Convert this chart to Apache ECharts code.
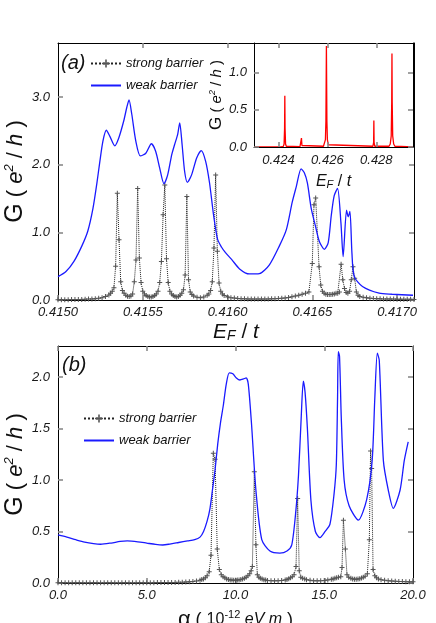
<!DOCTYPE html>
<html><head><meta charset="utf-8">
<script src="https://cdn.jsdelivr.net/npm/echarts@6/dist/echarts.min.js"></script>
<style>html,body{margin:0;padding:0;background:#fff}#c{width:436px;height:623px}</style>
</head><body><div id="c"></div>
<script>
// ---------- data: panel (a) ----------
const aXTicks = [0.4150, 0.4155, 0.4160, 0.4165, 0.4170];
const aYTicks = [0.0, 1.0, 2.0, 3.0];
const aStrong = [[0.41500,0.004],[0.41502,0.004],[0.41504,0.005],[0.41506,0.005],[0.41508,0.006],[0.41510,0.007],[0.41512,0.008],[0.41514,0.009],[0.41516,0.011],[0.41518,0.013],[0.41520,0.016],[0.41522,0.020],[0.41524,0.026],[0.41526,0.035],[0.41528,0.05],[0.41530,0.075],[0.41531,0.10],[0.41532,0.13],[0.41533,0.18],[0.41534,0.50],[0.41535,1.58],[0.41536,0.89],[0.41537,0.27],[0.41538,0.14],[0.41539,0.10],[0.41540,0.07],[0.41541,0.055],[0.41542,0.05],[0.41543,0.06],[0.41544,0.09],[0.41545,0.27],[0.41546,0.59],[0.41547,1.65],[0.41548,0.62],[0.41549,0.26],[0.41550,0.13],[0.41551,0.09],[0.41552,0.065],[0.41553,0.05],[0.41554,0.045],[0.41555,0.045],[0.41556,0.05],[0.41557,0.065],[0.41558,0.09],[0.41559,0.13],[0.41560,0.26],[0.41561,0.57],[0.41562,1.26],[0.41563,1.70],[0.41564,0.61],[0.41565,0.26],[0.41566,0.13],[0.41567,0.09],[0.41568,0.065],[0.41569,0.05],[0.41570,0.045],[0.41571,0.05],[0.41572,0.07],[0.41573,0.10],[0.41574,0.15],[0.41575,0.37],[0.41576,1.53],[0.41577,0.30],[0.41578,0.12],[0.41579,0.08],[0.41580,0.06],[0.41582,0.04],[0.41584,0.035],[0.41586,0.045],[0.41588,0.07],[0.41589,0.09],[0.41590,0.14],[0.41591,0.27],[0.41592,0.77],[0.41593,1.85],[0.41594,0.72],[0.41595,0.25],[0.41596,0.13],[0.41597,0.09],[0.41598,0.065],[0.41600,0.045],[0.41602,0.035],[0.41604,0.028],[0.41606,0.023],[0.41608,0.019],[0.41610,0.017],[0.41612,0.015],[0.41614,0.014],[0.41616,0.013],[0.41618,0.013],[0.41620,0.013],[0.41622,0.014],[0.41624,0.015],[0.41626,0.017],[0.41628,0.019],[0.41630,0.022],[0.41632,0.026],[0.41634,0.031],[0.41636,0.038],[0.41638,0.047],[0.41640,0.058],[0.41642,0.07],[0.41644,0.085],[0.41646,0.10],[0.41648,0.12],[0.41650,0.54],[0.41651,1.41],[0.41652,1.51],[0.41654,0.49],[0.41655,0.22],[0.41656,0.13],[0.41657,0.10],[0.41658,0.085],[0.41659,0.08],[0.41660,0.08],[0.41661,0.08],[0.41662,0.085],[0.41663,0.09],[0.41664,0.10],[0.41665,0.10],[0.41666,0.12],[0.41667,0.53],[0.41668,0.30],[0.41669,0.17],[0.41670,0.11],[0.41671,0.10],[0.41672,0.13],[0.41673,0.30],[0.41674,0.49],[0.41675,0.32],[0.41676,0.12],[0.41677,0.07],[0.41678,0.05],[0.41680,0.04],[0.41682,0.032],[0.41684,0.027],[0.41686,0.023],[0.41688,0.02],[0.41690,0.018],[0.41692,0.016],[0.41694,0.015],[0.41696,0.014],[0.41698,0.013],[0.41700,0.012],[0.41702,0.011],[0.41704,0.011],[0.41706,0.010],[0.41708,0.010],[0.41710,0.009]];
const aWeak = [[0.415000,0.345],[0.415047,0.42],[0.415094,0.57],[0.415141,0.80],[0.415176,1.02],[0.415206,1.35],[0.415229,1.72],[0.415247,2.05],[0.415265,2.35],[0.415285,2.51],[0.415306,2.42],[0.415335,2.28],[0.415359,2.40],[0.415388,2.65],[0.415406,2.85],[0.415419,2.96],[0.415435,2.75],[0.415459,2.35],[0.415486,2.13],[0.415518,2.17],[0.415551,2.31],[0.415576,2.20],[0.415600,1.95],[0.415625,1.72],[0.415647,1.85],[0.415671,2.15],[0.415688,2.30],[0.415706,2.45],[0.415718,2.62],[0.415732,2.30],[0.415747,1.90],[0.415763,1.74],[0.415788,1.85],[0.415818,2.10],[0.415845,2.21],[0.415871,2.05],[0.415894,1.73],[0.415918,1.25],[0.415941,0.90],[0.415965,0.78],[0.415988,0.70],[0.416024,0.60],[0.416071,0.46],[0.416129,0.385],[0.416188,0.39],[0.416247,0.52],[0.416306,0.80],[0.416347,1.04],[0.416382,1.45],[0.416406,1.68],[0.416434,1.94],[0.416453,1.88],[0.416471,1.73],[0.416494,1.35],[0.416518,1.10],[0.416541,0.87],[0.416571,0.75],[0.416594,0.85],[0.416612,1.25],[0.416629,1.54],[0.416649,1.65],[0.416669,1.14],[0.416682,0.64],[0.416702,1.33],[0.416712,1.23],[0.416722,1.31],[0.416734,0.69],[0.416747,0.35],[0.416796,0.20],[0.416894,0.10],[0.416971,0.085],[0.417094,0.07]];
// inset of panel (a)
const insetXTicks = [0.424, 0.426, 0.428];
const insetYTicks = [0.0, 0.5, 1.0];
const insetG = [[0.4230,0.0],[0.42410,0.002],[0.42420,0.01],[0.42423,0.04],[0.42425,0.25],[0.42426,0.69],[0.42427,0.25],[0.42429,0.04],[0.42432,0.01],[0.42488,0.005],[0.42492,0.02],[0.42494,0.12],[0.42496,0.02],[0.42500,0.005],[0.42584,0.01],[0.42588,0.03],[0.42592,0.10],[0.42594,0.35],[0.42596,1.36],[0.42598,0.35],[0.42600,0.10],[0.42604,0.03],[0.42608,0.01],[0.42786,0.01],[0.42789,0.06],[0.42790,0.355],[0.42791,0.06],[0.42794,0.01],[0.42852,0.01],[0.42857,0.04],[0.42861,0.15],[0.42863,0.6],[0.42864,1.26],[0.42865,0.6],[0.42867,0.15],[0.42871,0.04],[0.42876,0.01],[0.4295,0.002]];
// ---------- data: panel (b) ----------
const bXTicks = [0.0, 5.0, 10.0, 15.0, 20.0];
const bYTicks = [0.0, 0.5, 1.0, 1.5, 2.0];
const bStrong = [[0,0.002],[0.2,0.002],[0.4,0.002],[0.6,0.002],[0.8,0.002],[1.0,0.002],[1.2,0.002],[1.4,0.002],[1.6,0.002],[1.8,0.002],[2.0,0.002],[2.2,0.002],[2.4,0.002],[2.6,0.002],[2.8,0.002],[3.0,0.002],[3.2,0.002],[3.4,0.002],[3.6,0.002],[3.8,0.002],[4.0,0.002],[4.2,0.003],[4.4,0.003],[4.6,0.003],[4.8,0.003],[5.0,0.003],[5.2,0.003],[5.4,0.003],[5.6,0.004],[5.8,0.004],[6.0,0.004],[6.2,0.005],[6.4,0.005],[6.6,0.006],[6.8,0.007],[7.0,0.008],[7.2,0.009],[7.4,0.011],[7.6,0.014],[7.8,0.019],[8.0,0.027],[8.1,0.033],[8.2,0.04],[8.3,0.05],[8.4,0.07],[8.52,0.11],[8.62,0.27],[8.75,1.26],[8.85,1.20],[8.97,0.33],[9.09,0.13],[9.2,0.08],[9.3,0.06],[9.4,0.05],[9.5,0.04],[9.6,0.035],[9.7,0.03],[9.8,0.028],[9.9,0.027],[10.0,0.027],[10.1,0.028],[10.2,0.03],[10.3,0.034],[10.4,0.04],[10.5,0.047],[10.6,0.055],[10.7,0.07],[10.8,0.09],[10.88,0.12],[10.95,0.16],[11.06,1.08],[11.15,0.37],[11.23,0.08],[11.32,0.055],[11.4,0.045],[11.5,0.038],[11.6,0.032],[11.7,0.028],[11.8,0.025],[12.0,0.022],[12.2,0.021],[12.4,0.022],[12.6,0.025],[12.8,0.03],[12.9,0.035],[13.0,0.042],[13.1,0.05],[13.2,0.06],[13.3,0.08],[13.41,0.16],[13.50,0.82],[13.59,0.12],[13.68,0.055],[13.78,0.045],[13.9,0.038],[14.0,0.032],[14.2,0.026],[14.4,0.022],[14.6,0.021],[14.8,0.022],[15.0,0.025],[15.2,0.03],[15.4,0.036],[15.5,0.04],[15.6,0.045],[15.7,0.05],[15.8,0.055],[15.93,0.06],[16.0,0.15],[16.08,0.61],[16.19,0.33],[16.28,0.08],[16.38,0.055],[16.5,0.045],[16.6,0.04],[16.7,0.036],[16.8,0.036],[16.9,0.038],[17.0,0.042],[17.1,0.048],[17.2,0.055],[17.3,0.065],[17.43,0.09],[17.54,0.42],[17.61,1.28],[17.67,1.11],[17.75,0.13],[17.85,0.07],[17.95,0.05],[18.05,0.04],[18.2,0.032],[18.4,0.026],[18.6,0.022],[18.8,0.019],[19.0,0.017],[19.2,0.015],[19.4,0.014],[19.6,0.013],[19.8,0.012],[20.0,0.011]];
const bWeak = [[0.0,0.466],[0.5,0.445],[1.0,0.42],[1.5,0.397],[2.0,0.382],[2.4,0.376],[3.0,0.388],[3.5,0.403],[3.9,0.408],[4.5,0.40],[5.0,0.387],[5.5,0.374],[5.9,0.369],[6.3,0.378],[6.8,0.393],[7.3,0.408],[7.7,0.42],[8.0,0.445],[8.2,0.50],[8.4,0.60],[8.56,0.72],[8.7,0.90],[8.85,1.1],[9.0,1.35],[9.15,1.55],[9.31,1.72],[9.48,1.93],[9.65,2.04],[9.85,2.03],[10.05,1.99],[10.25,1.97],[10.45,1.98],[10.6,1.99],[10.72,1.93],[10.9,1.55],[11.15,0.90],[11.48,0.42],[11.94,0.31],[12.5,0.29],[12.9,0.31],[13.17,0.37],[13.4,0.70],[13.55,1.05],[13.7,1.6],[13.82,1.96],[13.92,1.85],[14.05,1.5],[14.25,0.80],[14.5,0.50],[14.76,0.44],[15.05,0.50],[15.32,0.57],[15.55,0.86],[15.68,1.15],[15.75,1.8],[15.79,2.245],[15.86,2.2],[15.96,1.6],[16.12,1.0],[16.4,0.75],[16.92,0.61],[17.39,0.81],[17.7,1.19],[17.85,1.8],[17.99,2.23],[18.1,2.16],[18.33,1.19],[18.61,0.90],[18.89,0.725],[19.27,0.90],[19.51,1.19],[19.73,1.37]];
const seriesNames = ['strong barrier', 'weak barrier'];

// ---------- styling ----------
const F = "'Liberation Sans', Arial, Helvetica, sans-serif";
const PLUS = 'path://M4,0H6V4H10V6H6V10H4V6H0V4H4Z';
const tick = (vals) => ({show: true, inside: true, length: 5, customValues: vals, lineStyle: {color: '#8a8a8a', width: 1.6}});
const axLine = {show: true, onZero: false, lineStyle: {color: '#000', width: 1}};
const lab = (vals, digits, margin, size) => ({show: true, customValues: vals, margin: margin, fontSize: size || 13, fontStyle: 'italic', color: '#1a1a1a', fontFamily: F, formatter: v => Number(v).toFixed(digits)});
const noLab = {show: false};

function gName(s) {
  return {
    color: '#111', fontFamily: F,
    rich: {
      g: {fontSize: Math.round(25 * s), fontFamily: F, color: '#111'},
      p: {fontSize: Math.round(22 * s), fontFamily: F, color: '#111'},
      i: {fontSize: Math.round(22 * s), fontStyle: 'italic', fontFamily: F, color: '#111'},
      s: {fontSize: Math.round(13 * s), fontStyle: 'italic', fontFamily: F, color: '#111', verticalAlign: 'top'}
    }
  };
}
function eName(size) {
  return {
    color: '#111', fontFamily: F,
    rich: {
      e: {fontSize: size, fontStyle: 'italic', fontFamily: F, color: '#111'},
      f: {fontSize: Math.round(size * 0.68), fontStyle: 'italic', fontFamily: F, color: '#111', verticalAlign: 'bottom'},
      p: {fontSize: size, fontFamily: F, color: '#111'}
    }
  };
}
const G_NAME = '{g|G}{p| ( }{i|e}{s|2}{p| / }{i|h}{p| )}';
const E_NAME = '{e|E}{f|F}{p| / }{e|t}';
const legendData = [{name: seriesNames[0]}, {name: seriesNames[1], itemStyle: {opacity: 0}}];

const option = {
  animation: false,
  backgroundColor: '#fff',
  grid: [
    {left: 58, top: 43, width: 356, height: 257, outerBoundsMode: 'none', containLabel: false},
    {left: 58, top: 346, width: 355, height: 237, outerBoundsMode: 'none', containLabel: false},
    {left: 254, top: 43, width: 159, height: 104, outerBoundsMode: 'none', containLabel: false, show: true, backgroundColor: '#fff', borderWidth: 0, z: 5}
  ],
  xAxis: [
    {gridIndex: 0, type: 'value', position: 'bottom', min: 0.415, max: 0.4171, axisLine: axLine, axisTick: tick(aXTicks), axisLabel: lab(aXTicks, 4, 6), splitLine: {show: false},
     name: E_NAME, nameLocation: 'middle', nameGap: 22, nameTextStyle: eName(21)},
    {gridIndex: 0, type: 'value', position: 'top', min: 0.415, max: 0.4171, axisLine: axLine, axisTick: tick([0.4155, 0.4160]), axisLabel: noLab, splitLine: {show: false}},
    {gridIndex: 1, type: 'value', position: 'bottom', min: 0, max: 20, axisLine: axLine, axisTick: tick(bXTicks), axisLabel: lab(bXTicks, 1, 6), splitLine: {show: false},
     name: '{a|α}{p| ( }{n|10}{s|-12}{i| eV m}{p| )}', nameLocation: 'middle', nameGap: 26,
     nameTextStyle: {color: '#111', fontFamily: F, rich: {
       a: {fontSize: 22, fontFamily: F, color: '#111'},
       p: {fontSize: 18, fontFamily: F, color: '#111'},
       n: {fontSize: 16, fontFamily: F, color: '#111'},
       s: {fontSize: 11, fontFamily: F, color: '#111', verticalAlign: 'top'},
       i: {fontSize: 16, fontStyle: 'italic', fontFamily: F, color: '#111'}}}},
    {gridIndex: 1, type: 'value', position: 'top', min: 0, max: 20, axisLine: axLine, axisTick: tick(bXTicks), axisLabel: noLab, splitLine: {show: false}},
    {gridIndex: 2, type: 'value', position: 'bottom', min: 0.423, max: 0.4295, z: 10, axisLine: axLine, axisTick: tick(insetXTicks), axisLabel: lab(insetXTicks, 3, 7), splitLine: {show: false},
     name: E_NAME, nameLocation: 'middle', nameGap: 27, nameTextStyle: eName(16)},
    {gridIndex: 2, type: 'value', position: 'top', min: 0.423, max: 0.4295, z: 10, axisLine: axLine, axisTick: tick(insetXTicks), axisLabel: noLab, splitLine: {show: false}}
  ],
  yAxis: [
    {gridIndex: 0, type: 'value', position: 'left', min: 0, max: 3.8, axisLine: axLine, axisTick: tick(aYTicks), axisLabel: lab(aYTicks, 1, 8), splitLine: {show: false},
     name: G_NAME, nameLocation: 'middle', nameGap: 30, nameMoveOverlap: false, nameTextStyle: gName(1)},
    {gridIndex: 0, type: 'value', position: 'right', min: 0, max: 3.8, axisLine: axLine, axisTick: tick(aYTicks), axisLabel: noLab, splitLine: {show: false}},
    {gridIndex: 1, type: 'value', position: 'left', min: 0, max: 2.3, axisLine: axLine, axisTick: tick(bYTicks), axisLabel: lab(bYTicks, 1, 8), splitLine: {show: false},
     name: G_NAME, nameLocation: 'middle', nameGap: 30, nameMoveOverlap: false, nameTextStyle: gName(1)},
    {gridIndex: 1, type: 'value', position: 'right', min: 0, max: 2.3, axisLine: axLine, axisTick: tick(bYTicks), axisLabel: noLab, splitLine: {show: false}},
    {gridIndex: 2, type: 'value', position: 'left', min: 0, max: 1.4, z: 10, axisLine: axLine, axisTick: tick(insetYTicks), axisLabel: lab(insetYTicks, 1, 7), splitLine: {show: false},
     name: G_NAME, nameLocation: 'middle', nameGap: 17, nameTextStyle: gName(0.68)},
    {gridIndex: 2, type: 'value', position: 'right', min: 0, max: 1.4, z: 10, axisLine: axLine, axisTick: tick(insetYTicks), axisLabel: noLab, splitLine: {show: false}}
  ],
  legend: [
    {data: legendData, orient: 'vertical', left: 85, top: 52, itemWidth: 30, itemHeight: 10, itemGap: 9, selectedMode: false,
     textStyle: {fontSize: 13, fontStyle: 'italic', color: '#111', fontFamily: F}},
    {data: legendData, orient: 'vertical', left: 78, top: 407, itemWidth: 30, itemHeight: 10, itemGap: 9, selectedMode: false,
     textStyle: {fontSize: 13, fontStyle: 'italic', color: '#111', fontFamily: F}}
  ],
  graphic: [
    {type: 'text', left: 61, top: 53, style: {text: '(a)', font: 'italic 20px ' + F, fill: '#111'}},
    {type: 'text', left: 62, top: 355, style: {text: '(b)', font: 'italic 20px ' + F, fill: '#111'}}
  ],
  series: [
    {name: seriesNames[0], type: 'line', xAxisIndex: 0, yAxisIndex: 0, data: aStrong, symbol: PLUS, symbolSize: 5,
     itemStyle: {color: '#555'}, lineStyle: {type: 'dotted', color: '#222', width: 1}, z: 3},
    {name: seriesNames[1], type: 'line', xAxisIndex: 0, yAxisIndex: 0, data: aWeak, smooth: 0.25, symbol: 'none',
     lineStyle: {color: '#1a1aff', width: 1.3}, itemStyle: {color: '#1a1aff'}, z: 4},
    {name: 'inset', type: 'line', xAxisIndex: 4, yAxisIndex: 4, data: insetG, symbol: 'none',
     lineStyle: {color: '#ff0000', width: 1.3}, itemStyle: {color: '#ff0000'}, z: 6},
    {name: seriesNames[0], type: 'line', xAxisIndex: 2, yAxisIndex: 2, data: bStrong, symbol: PLUS, symbolSize: 5,
     itemStyle: {color: '#555'}, lineStyle: {type: 'dotted', color: '#222', width: 1}, z: 3},
    {name: seriesNames[1], type: 'line', xAxisIndex: 2, yAxisIndex: 2, data: bWeak, smooth: 0.25, symbol: 'none',
     lineStyle: {color: '#1a1aff', width: 1.3}, itemStyle: {color: '#1a1aff'}, z: 4}
  ]
};
const chart = echarts.init(document.getElementById('c'), null, {renderer: 'canvas'});
chart.setOption(option);
</script>
</body></html>
